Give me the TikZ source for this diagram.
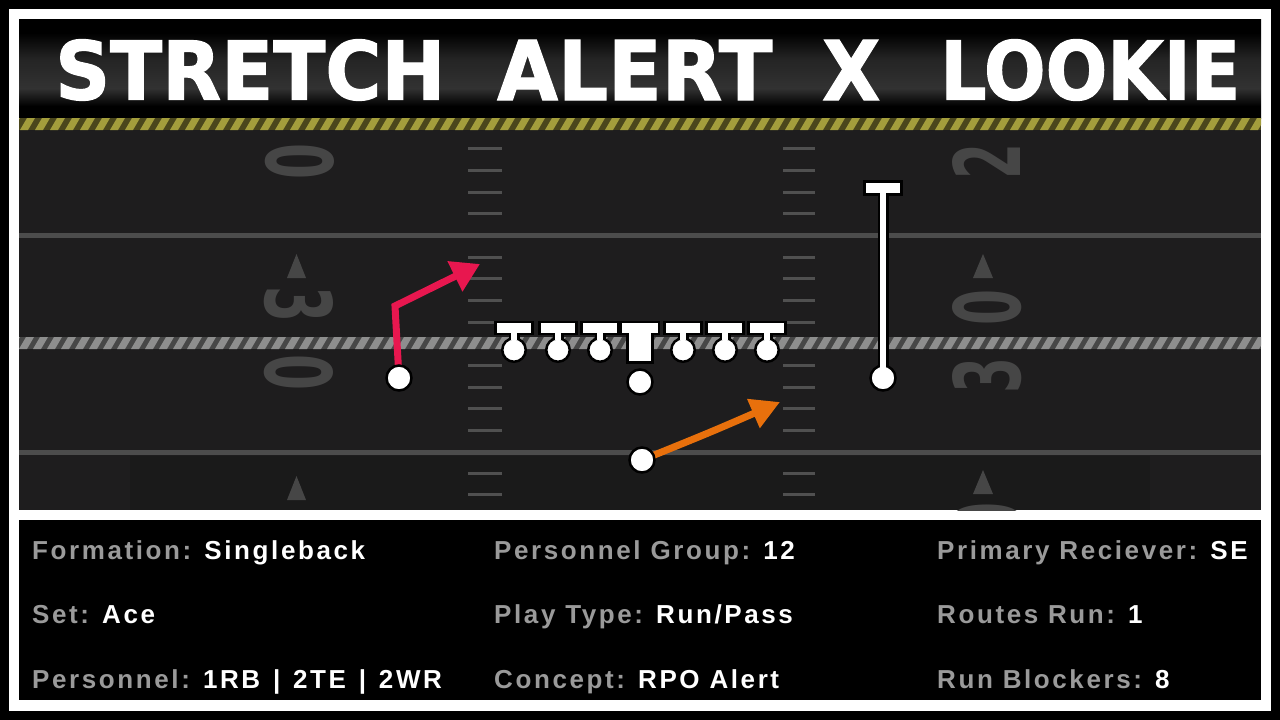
\documentclass[tikz,border=0pt]{standalone}
\usepackage{fontspec}
\setmainfont{Liberation Sans}
\newfontfamily\titlefont[BoldFeatures={FakeBold=1.5}]{DejaVu Sans}
\newfontfamily\yardfont{DejaVu Sans}
\newfontfamily\infofont[LetterSpace=10]{Liberation Sans}
\usetikzlibrary{arrows.meta}
\definecolor{fieldbg}{HTML}{1E1D1E}
\definecolor{fielddk}{HTML}{1A1A1A}
\definecolor{markgray}{HTML}{464646}
\definecolor{linegray}{HTML}{4C4C4C}
\definecolor{tickgray}{HTML}{505050}
\definecolor{goldlt}{HTML}{A39D3C}
\definecolor{golddk}{HTML}{4A461C}
\definecolor{ropelt}{HTML}{8E8E8E}
\definecolor{ropedk}{HTML}{474747}
\definecolor{routered}{HTML}{E8174F}
\definecolor{routeorange}{HTML}{E8700C}
\definecolor{labelgray}{HTML}{9A9A9A}
\definecolor{hdrlt}{HTML}{323232}
\definecolor{hdrmid}{HTML}{242424}
\pgfdeclareverticalshading{hdrshade}{100bp}{color(0bp)=(black); color(31bp)=(black); color(40bp)=(hdrlt); color(55bp)=(hdrmid); color(68bp)=(black); color(100bp)=(black)}
\pgfdeclarelayer{fieldlayer}
\pgfdeclarelayer{routelayer}
\pgfdeclarelayer{toplayer}
\pgfsetlayers{fieldlayer,routelayer,main,toplayer}
\newcommand{\barsep}{\ \hspace{3pt}|\ \hspace{3pt}}
\newcommand{\yd}[1]{\resizebox{36pt}{68pt}{\yardfont\bfseries #1}}
\begin{document}
\begin{tikzpicture}[x=1pt,y=-1pt,
  player/.style={circle, draw=black, line width=2.5pt, fill=white, minimum size=25pt, inner sep=0pt},
  lineman/.style={circle, draw=black, line width=2.5pt, fill=white, minimum size=23.5pt, inner sep=0pt},
  centerman/.style={rectangle, draw=black, line width=2.5pt, fill=white, minimum width=25pt, minimum height=27pt, inner sep=0pt},
  yardnum/.style={inner sep=0pt, text=markgray},
  yardtri/.style={fill=markgray},
  hashtick/.style={draw=tickgray, line width=3pt},
  fieldline/.style={draw=linegray, line width=5pt},
  redroute/.style={draw=routered, line width=7pt, line join=miter, -{Triangle[length=28pt,width=32pt]}},
  orangeroute/.style={draw=routeorange, line width=7pt, -{Triangle[length=29pt,width=30pt]}},
  blockout/.style={draw=black, line width=11pt},
  blockin/.style={draw=white, line width=6pt},
  titleword/.style={inner sep=0pt, anchor=west, text=white},
  info/.style={inner sep=0pt, anchor=base west, font=\infofont\bfseries\fontsize{26}{30}\selectfont, text=labelgray}
]
\useasboundingbox (0,0) rectangle (1280,720);

\begin{pgfonlayer}{fieldlayer}
% frame
\fill[black] (0,0) rectangle (1280,720);
\fill[white] (9,9) rectangle (1271,711);
\fill[fieldbg] (19,19) rectangle (1261,510);
\fill[fielddk] (130,456) rectangle (1150,510);
\fill[black] (19,520) rectangle (1261,700);
% header band
\shade[shading=hdrshade] (19,19) rectangle (1261,118);

% field lines
\draw[fieldline] (19,235) -- (1261,235);
\draw[fieldline] (19,452) -- (1261,452);

% hash marks
\foreach \y in {148,170,192,213,257,278,300,322,365,387,408,430,473,494}{
  \draw[hashtick] (468,\y) -- (502,\y);
  \draw[hashtick] (783,\y) -- (815,\y);
}

% yard numbers
\begin{scope}
\clip (19,130) rectangle (1261,510);
\node[yardnum, rotate=-90] (lnA) at (300,162) {\yd{0}};
\node[yardnum, rotate=-90] (lnB) at (299,304) {\yd{3}};
\node[yardnum, rotate=-90] (lnC) at (299,372) {\yd{0}};
\node[yardnum, rotate=90] (rnA) at (986,161) {\yd{2}};
\node[yardnum, rotate=90] (rnB) at (987,307) {\yd{0}};
\node[yardnum, rotate=90] (rnC) at (987,375) {\yd{3}};
\node[yardnum, rotate=90] (rnD) at (987,520) {\yd{0}};
\end{scope}
\fill[yardtri] (287,278) -- (306,278) -- (296.5,254) -- cycle;
\fill[yardtri] (973,278) -- (993,278) -- (983,254) -- cycle;
\fill[yardtri] (287,500) -- (306,500) -- (296.5,476) -- cycle;
\fill[yardtri] (973,494) -- (993,494) -- (983,470) -- cycle;

% ropes
\begin{scope}
\clip (19,0) rectangle (1261,720);
\fill[golddk] (19,118) rectangle (1261,130);
\foreach \x in {5,20,...,1275}{
  \fill[goldlt] (\x,130) -- (\x+8,130) -- (\x+15,118) -- (\x+7,118) -- cycle;
}
\fill[ropedk] (19,337) rectangle (1261,349);
\foreach \x in {5,19,...,1275}{
  \fill[ropelt] (\x,349) -- (\x+8,349) -- (\x+15,337) -- (\x+7,337) -- cycle;
}
\end{scope}
\end{pgfonlayer}

% ---------------- title ----------------
\node[titleword] (tA) at (55,70) {\resizebox{390pt}{60pt}{\titlefont\bfseries STRETCH}};
\node[titleword] (tB) at (497,70) {\resizebox{275pt}{60pt}{\titlefont\bfseries ALERT}};
\node[titleword] (tC) at (822,70) {\resizebox{58pt}{60pt}{\titlefont\bfseries X}};
\node[titleword] (tD) at (940,70) {\resizebox{300pt}{60pt}{\titlefont\bfseries LOOKIE}};

% ---------------- players ----------------
\node[player] (wrL) at (399,378) {};
\node[player] (wrR) at (883,378) {};
\node[player] (qb) at (640,382) {};
\node[player] (rb) at (642,460) {};
\node[lineman] (olA) at (514,350) {};
\node[lineman] (olB) at (558,350) {};
\node[lineman] (olC) at (600,350) {};
\node[centerman] (ctr) at (640,349) {};
\node[lineman] (olD) at (683,350) {};
\node[lineman] (olE) at (725,350) {};
\node[lineman] (olF) at (767,350) {};

% route end points
\coordinate (rbreak) at (395,306);
\coordinate (rtip) at (480,264);
\coordinate (otip) at (780,402);
\coordinate (wrRtop) at (883,188);
\coordinate (barolA) at (514,328);
\coordinate (barolB) at (558,328);
\coordinate (barolC) at (600,328);
\coordinate (barctr) at (640,328);
\coordinate (barolD) at (683,328);
\coordinate (barolE) at (725,328);
\coordinate (barolF) at (767,328);

% ---------------- routes ----------------
\begin{pgfonlayer}{routelayer}
\draw[redroute] (wrL.center) -- (rbreak) -- (rtip);
\draw[orangeroute] (rb.center) .. controls (711,432) .. (otip);
% blocking outlines
\draw[blockout] (wrR.center) -- (wrRtop);
\fill[black] (863,180) rectangle (903,196);
\foreach \n in {olA,olB,olC,ctr,olD,olE,olF}{
  \draw[blockout] (\n.center) -- (bar\n);
  \fill[black] ([xshift=-20pt,yshift=-7pt]bar\n) rectangle ([xshift=20pt,yshift=7pt]bar\n);
}
\end{pgfonlayer}

\begin{pgfonlayer}{toplayer}
\draw[blockin] (wrR.center) -- (wrRtop);
\fill[white] (866,183) rectangle (900,193);
\foreach \n in {olA,olB,olC,olD,olE,olF}{
  \draw[blockin] ([yshift=-3pt]\n.north) -- (bar\n);
  \fill[white] ([xshift=-17pt,yshift=-5pt]bar\n) rectangle ([xshift=17pt,yshift=5pt]bar\n);
}
\fill[white] ([xshift=-11pt]barctr) rectangle ([xshift=11pt,yshift=-9pt]barctr);
\fill[white] ([xshift=-18pt,yshift=-5pt]barctr) rectangle ([xshift=18pt,yshift=5pt]barctr);
\end{pgfonlayer}

% ---------------- info panel ----------------
\node[info] (i1) at (32,559) {Formation: \textcolor{white}{Singleback}};
\node[info] (i2) at (32,623) {Set: \textcolor{white}{Ace}};
\node[info] (i3) at (32,688) {Personnel: \textcolor{white}{1RB\barsep 2TE\barsep 2WR}};
\node[info] (i4) at (494,559) {Personnel Group: \textcolor{white}{12}};
\node[info] (i5) at (494,623) {Play Type: \textcolor{white}{Run/Pass}};
\node[info] (i6) at (494,688) {Concept: \textcolor{white}{RPO Alert}};
\node[info] (i7) at (937,559) {Primary Reciever: \textcolor{white}{SE}};
\node[info] (i8) at (937,623) {Routes Run: \textcolor{white}{1}};
\node[info] (i9) at (937,688) {Run Blockers: \textcolor{white}{8}};
\end{tikzpicture}
\end{document}
